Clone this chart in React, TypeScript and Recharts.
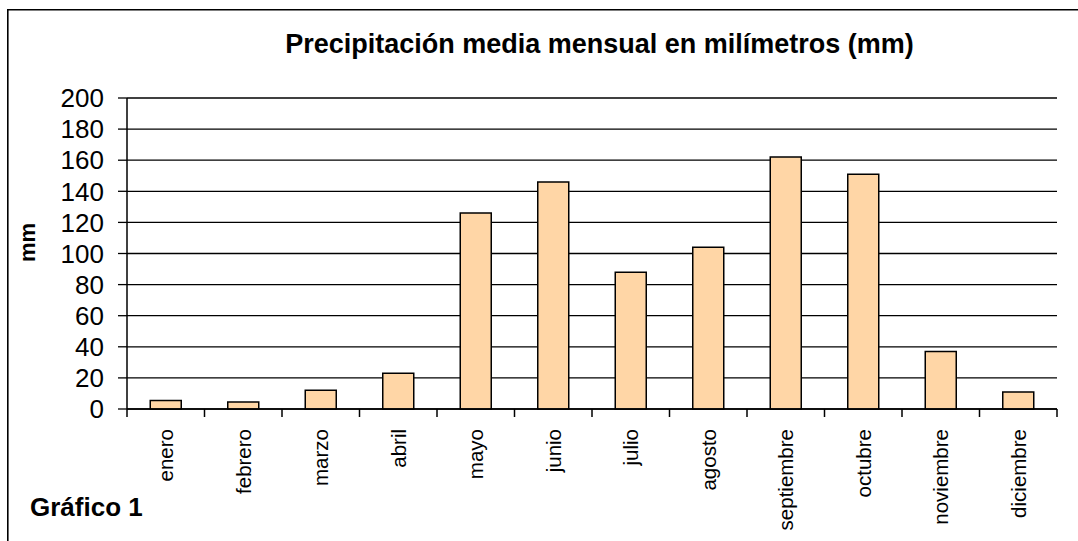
import { BarChart, Bar, XAxis, YAxis, CartesianGrid } from "recharts"

const months = [
  "enero",
  "febrero",
  "marzo",
  "abril",
  "mayo",
  "junio",
  "julio",
  "agosto",
  "septiembre",
  "octubre",
  "noviembre",
  "diciembre",
]
const rainfall = [5.5, 4.5, 12, 23, 126, 146, 88, 104, 162, 151, 37, 11]
const yTicks = [0, 20, 40, 60, 80, 100, 120, 140, 160, 180, 200]

const title = "Precipitación media mensual en milímetros (mm)"
const yLabel = "mm"
const caption = "Gráfico 1"

const data = months.map((m, i) => ({ month: m, mm: rainfall[i] }))

const W = 1078
const H = 541
const PLOT_LEFT = 127
const PLOT_RIGHT = 1057
const PLOT_TOP = 98
const PLOT_BOTTOM = 409
const Y_AXIS_W = 100
const X_AXIS_H = 110
const BAND = (PLOT_RIGHT - PLOT_LEFT) / months.length
const FONT = "'Liberation Sans', Arial, sans-serif"

// ticks sit on the category boundaries, labels on the centres
function MonthTick(props: any) {
  const { x, y, payload, index } = props
  const last = index === months.length - 1
  return (
    <g>
      <line x1={x - BAND / 2} x2={x - BAND / 2} y1={y} y2={y + 8} stroke="#000" strokeWidth={1.5} />
      {last && (
        <line x1={x + BAND / 2} x2={x + BAND / 2} y1={y} y2={y + 8} stroke="#000" strokeWidth={1.5} />
      )}
      <text
        transform={`translate(${x},${y + 20}) rotate(-90)`}
        textAnchor="end"
        dominantBaseline="central"
        fontSize={20.5}
        fontFamily={FONT}
        fill="#000"
      >
        {payload.value}
      </text>
    </g>
  )
}

export default function App() {
  return (
    <div
      style={{
        position: "fixed",
        left: 0,
        top: 0,
        width: W,
        height: H,
        background: "#fff",
        overflow: "hidden",
      }}
    >
      <BarChart
        width={W}
        height={H}
        data={data}
        barCategoryGap="30%"
        margin={{
          top: PLOT_TOP,
          right: W - PLOT_RIGHT,
          bottom: H - PLOT_BOTTOM - X_AXIS_H,
          left: PLOT_LEFT - Y_AXIS_W,
        }}
      >
        <CartesianGrid yAxisId="left" vertical={false} horizontal stroke="#000" strokeWidth={1.3} />
        <XAxis
          dataKey="month"
          height={X_AXIS_H}
          interval={0}
          axisLine={{ stroke: "#000", strokeWidth: 1.5 }}
          tickLine={false}
          tickSize={0}
          tickMargin={0}
          tick={<MonthTick />}
        />
        <YAxis
          yAxisId="left"
          width={Y_AXIS_W}
          domain={[0, 200]}
          ticks={yTicks}
          interval={0}
          axisLine={{ stroke: "#000", strokeWidth: 1.5 }}
          tickLine={{ stroke: "#000", strokeWidth: 1.3 }}
          tickSize={9}
          tickMargin={14}
          tick={{ fill: "#000", fontSize: 26, fontFamily: FONT }}
        />
        <YAxis
          yAxisId="right"
          orientation="right"
          width={0}
          domain={[0, 200]}
          tick={false}
          tickLine={false}
          axisLine={{ stroke: "#000", strokeWidth: 1.5 }}
        />
        <Bar
          yAxisId="left"
          dataKey="mm"
          fill="#FFD6A6"
          stroke="#000"
          strokeWidth={1.5}
          isAnimationActive={false}
        />
      </BarChart>
      <svg
        width={W}
        height={H}
        style={{ position: "absolute", left: 0, top: 0, pointerEvents: "none" }}
      >
        <path d="M7.8 541 V9.8 H1078" fill="none" stroke="#000" strokeWidth={1.6} />
        <text x={599.5} y={53} textAnchor="middle" fontSize={27} fontWeight="bold" fontFamily={FONT} fill="#000">
          {title}
        </text>
        <text
          transform="translate(35,242.5) rotate(-90)"
          textAnchor="middle"
          fontSize={22}
          fontWeight="bold"
          fontFamily={FONT}
          fill="#000"
        >
          {yLabel}
        </text>
        <text x={30} y={516} fontSize={26} fontWeight="bold" fontFamily={FONT} fill="#000">
          {caption}
        </text>
      </svg>
    </div>
  )
}
